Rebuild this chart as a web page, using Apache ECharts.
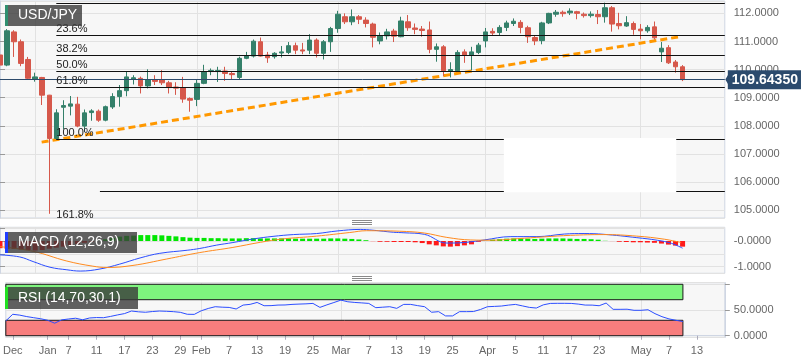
<!DOCTYPE html>
<html><head><meta charset="utf-8">
<script src="https://cdn.jsdelivr.net/npm/echarts@6/dist/echarts.min.js"></script>
<style>html,body{margin:0;padding:0;background:#fff}#c{width:808px;height:363px}</style>
</head><body><div id="c"></div>
<script>
// ---------- DATA ----------
const dates = [
'2018-12-25','2018-12-26','2018-12-27','2018-12-28','2018-12-31',
'2019-01-01','2019-01-02','2019-01-03','2019-01-04','2019-01-07','2019-01-08','2019-01-09','2019-01-10','2019-01-11',
'2019-01-14','2019-01-15','2019-01-16','2019-01-17','2019-01-18','2019-01-21','2019-01-22','2019-01-23','2019-01-24','2019-01-25',
'2019-01-28','2019-01-29','2019-01-30','2019-01-31',
'2019-02-01','2019-02-04','2019-02-05','2019-02-06','2019-02-07','2019-02-08','2019-02-11','2019-02-12','2019-02-13','2019-02-14','2019-02-15',
'2019-02-18','2019-02-19','2019-02-20','2019-02-21','2019-02-22','2019-02-25','2019-02-26','2019-02-27','2019-02-28',
'2019-03-01','2019-03-04','2019-03-05','2019-03-06','2019-03-07','2019-03-08','2019-03-11','2019-03-12','2019-03-13','2019-03-14','2019-03-15',
'2019-03-18','2019-03-19','2019-03-20','2019-03-21','2019-03-22','2019-03-25','2019-03-26','2019-03-27','2019-03-28','2019-03-29',
'2019-04-01','2019-04-02','2019-04-03','2019-04-04','2019-04-05','2019-04-08','2019-04-09','2019-04-10','2019-04-11','2019-04-12',
'2019-04-15','2019-04-16','2019-04-17','2019-04-18','2019-04-19','2019-04-22','2019-04-23','2019-04-24','2019-04-25','2019-04-26',
'2019-04-29','2019-04-30',
'2019-05-01','2019-05-02','2019-05-03','2019-05-06','2019-05-07','2019-05-08','2019-05-09','2019-05-10',
'2019-05-13','2019-05-14','2019-05-15','2019-05-16','2019-05-17'];

const opens  = [110.52,110.16,111.34,110.99,110.36,109.65,109.72,109.09,107.55,108.66,
108.70,108.77,107.99,108.47,108.52,108.20,108.67,109.04,109.25,109.65,
109.69,109.42,109.63,109.63,109.53,109.38,109.35,108.97,108.94,109.51,
109.93,109.93,109.95,109.86,109.72,110.40,110.48,110.99,110.52,110.46,
110.59,110.61,110.85,110.70,110.69,111.05,110.58,110.99,111.46,111.88,
111.70,111.88,111.76,111.62,111.02,111.20,111.37,111.17,111.70,111.48,
111.44,111.41,110.72,110.81,109.95,109.96,110.63,110.51,110.61,111.02,
111.36,111.32,111.50,111.64,111.68,111.49,111.14,111.03,111.66,111.97,
112.04,112.02,112.06,111.97,111.92,111.96,111.88,112.20,111.64,111.55,
111.64,111.44,111.38,111.52,110.63,110.78,110.27,110.10];
const closes = [110.16,111.38,110.99,110.22,109.69,109.74,109.09,107.55,108.46,108.72,
108.78,107.99,108.46,108.53,108.20,108.68,109.04,109.25,109.74,109.71,
109.42,109.63,109.58,109.53,109.36,109.34,108.95,108.91,109.51,109.92,
109.97,109.97,109.86,109.82,110.40,110.48,111.01,110.48,110.42,110.58,
110.63,110.85,110.69,110.66,111.05,110.58,110.99,111.46,111.97,111.70,
111.88,111.79,111.64,111.15,111.20,111.34,111.19,111.73,111.49,111.43,
111.39,110.72,110.81,109.96,110.00,110.61,110.51,110.63,110.87,111.34,
111.30,111.50,111.66,111.72,111.50,111.17,111.02,111.66,112.00,112.04,
111.99,112.08,112.00,111.92,111.97,111.88,112.20,111.62,111.56,111.67,
111.43,111.38,111.50,111.13,110.76,110.24,110.10,109.6435];
const lows   = [110.10,110.12,110.45,110.12,109.63,109.57,108.74,104.87,107.50,107.88,
108.37,107.95,107.79,108.18,108.14,108.16,108.60,108.68,109.05,109.47,
109.15,109.33,109.45,109.45,109.15,109.10,108.82,108.50,108.70,109.48,
109.80,109.56,109.60,109.65,109.66,110.37,110.43,110.46,110.24,110.39,
110.43,110.55,110.55,110.55,110.55,110.43,110.36,110.63,111.31,111.62,
111.58,111.62,111.50,110.79,110.90,111.07,110.98,111.15,111.38,111.26,
111.17,110.58,110.28,109.77,109.72,109.92,110.24,109.98,110.55,110.79,
111.23,111.23,111.37,111.55,111.29,110.95,110.87,110.90,111.62,111.88,
111.88,111.94,111.79,111.85,111.85,111.62,111.67,111.35,111.43,111.52,
111.24,111.08,111.31,111.07,110.27,110.20,109.89,109.59];
const highs  = [110.55,111.44,111.40,111.07,110.45,109.89,109.74,109.10,108.59,108.91,
109.06,109.03,108.58,108.59,108.58,108.72,109.16,109.45,109.92,109.80,
109.75,110.01,109.80,109.98,109.60,109.55,109.74,109.01,109.65,110.17,
110.04,110.10,110.10,109.95,110.46,110.63,111.07,111.14,110.63,110.62,
110.84,110.98,110.96,110.95,111.26,111.11,111.05,111.52,112.09,112.00,
112.14,111.94,111.86,111.67,111.32,111.45,111.45,111.88,111.94,111.64,
111.55,111.71,110.93,110.87,110.26,110.69,110.72,110.81,110.95,111.48,
111.47,111.58,111.74,111.82,111.76,111.56,111.23,111.70,112.02,112.12,
112.10,112.18,112.09,112.03,112.07,112.12,112.38,112.26,112.02,111.90,
111.71,111.62,111.58,111.71,110.98,110.87,110.34,110.16];

const lastPrice = 109.6435;

// trend line (x as trading-day index, y as price)
const trendPts = [[5.92, 107.42], [96.35, 111.16]];

// Fibonacci retracement
const fibNames  = ['0.0%','23.6%','38.2%','50.0%','61.8%','100.0%','161.8%'];
const fibPrices = [112.36, 111.23, 110.51, 109.95, 109.38, 107.52, 104.55];
const fibStart = 8;
const extraLevel = 105.66;     // extra horizontal drawing
const extraStart = 14.2;
const whiteBox = {x0: 71.6, x1: 96.1, yTop: 107.57, yBot: 105.64};

// MACD (12,26,9)
const macdPts = [[0,-0.54],[2.8,-0.62],[4.7,-0.80],[7.1,-1.02],[9.5,-1.12],[11.4,-1.17],[14.2,-1.09],[17,-0.90],
[19.9,-0.66],[22.7,-0.48],[26.6,-0.36],[28.4,-0.29],[30.8,-0.16],[33.1,-0.06],[36,0.08],[38.8,0.18],[41.7,0.25],
[45,0.29],[47.9,0.39],[51.2,0.45],[53,0.42],[55.9,0.34],[57.4,0.32],[60.3,0.26],[63.5,-0.08],[65.9,-0.06],
[68.8,0.04],[72.6,0.17],[76.3,0.17],[80.2,0.27],[83,0.29],[85.8,0.26],[90.5,0.13],[93.4,0.03],[95.4,-0.09],[97,-0.28]];
const signalPts = [[0,-0.22],[4.7,-0.40],[9.5,-0.78],[13.2,-0.98],[15.2,-1.03],[18.9,-0.95],[23.7,-0.70],[28.4,-0.45],
[33.1,-0.25],[37,-0.05],[40.2,0.08],[45,0.19],[49.7,0.33],[52.1,0.40],[56.8,0.38],[60.3,0.31],[63.5,0.14],
[66.9,0.04],[69.8,0.03],[73.5,0.09],[77.3,0.16],[81.1,0.22],[85.8,0.25],[90.5,0.19],[94.4,0.07],[96.8,-0.06]];
const histogram = [-0.28,-0.30,-0.31,-0.33,-0.35,-0.37,-0.35,-0.30,-0.26,-0.22,
-0.17,-0.12,-0.07,-0.03,0.02,0.07,0.12,0.17,0.20,0.21,
0.23,0.23,0.23,0.22,0.20,0.18,0.15,0.13,0.12,0.12,
0.11,0.11,0.10,0.10,0.10,0.11,0.11,0.10,0.10,0.10,
0.10,0.10,0.09,0.09,0.09,0.09,0.09,0.10,0.10,0.09,
0.08,0.06,0.03,-0.02,-0.03,-0.03,-0.04,-0.04,-0.04,-0.05,
-0.08,-0.13,-0.17,-0.21,-0.22,-0.20,-0.17,-0.13,-0.03,0.01,
0.05,0.07,0.09,0.10,0.10,0.09,0.08,0.09,0.10,0.10,
0.10,0.09,0.08,0.08,0.07,0.05,0.02,-0.01,-0.03,-0.04,
-0.05,-0.05,-0.06,-0.07,-0.10,-0.14,-0.18,-0.22];

// RSI (14)
const rsi = [28.8,41.7,40,37.2,35,33,30,24.4,30.8,32.5,
34,31,34.5,35.3,35,37.5,40.4,43,48,46.5,
45.6,47,48,47.5,46.8,45.5,41.7,41.5,48.5,53,
56.4,55.5,55,52,59.6,61,64.7,58.3,58.5,59.6,
59.8,60.9,61.5,62,62.8,55.1,60,64.5,69.2,66,
64.7,63.8,62.8,54.5,55.5,56.4,53.2,60.9,60.9,58.5,
56.4,45.6,46.8,38.5,38.5,46.8,46.8,47,51,56.4,
57,57.7,59.5,60.9,58,55.1,53.8,60,62.8,63,
63,62.8,61.5,59.6,59.5,58.3,63.5,51.3,51.3,51.5,
49.4,49.4,50.5,42.9,37,32.7,30,27.6];
const rsiBands = [[70, 100, '#7ef57e'], [0, 30, '#f77d7d']];

// axis tick labels
const tickLabels = {
'2018-12-26':'Dec','2019-01-02':'Jan','2019-01-07':'7','2019-01-11':'11','2019-01-17':'17','2019-01-23':'23','2019-01-29':'29',
'2019-02-01':'Feb','2019-02-07':'7','2019-02-13':'13','2019-02-19':'19','2019-02-25':'25',
'2019-03-01':'Mar','2019-03-07':'7','2019-03-13':'13','2019-03-19':'19','2019-03-25':'25',
'2019-04-01':'Apr','2019-04-05':'5','2019-04-11':'11','2019-04-17':'17','2019-04-23':'23',
'2019-05-01':'May','2019-05-07':'7','2019-05-13':'13'};
const monthStarts = ['2019-01-01','2019-02-01','2019-03-01','2019-04-01','2019-05-01'];

// ---------- CHART ----------
const FONT = 'Liberation Sans, Arial, sans-serif';
const chart = echarts.init(document.getElementById('c'), null, {renderer:'canvas'});
const candleData = opens.map((o,i)=>[o, closes[i], lows[i], highs[i]]);
const lastIdx = opens.length - 1;
const W = 724.8;
const gridStyle = {show:true, backgroundColor:'#f7f7f7', borderColor:'#cfd6e3', borderWidth:1};
const vSplit = {show:true, interval:(i,v)=>monthStarts.indexOf(v)>=0, lineStyle:{color:'#e2e2e2', width:1}};
const catAxis = (g, showLabels) => ({
  type:'category', gridIndex:g, data:dates, boundaryGap:false,
  axisLine:{show:showLabels, lineStyle:{color:'#cfd6e3'}},
  axisTick:{show:showLabels, interval:(i,v)=>!!tickLabels[v], length:4, lineStyle:{color:'#aab'}},
  axisLabel:{show:showLabels, interval:0, formatter:v=>tickLabels[v]||'', color:'#666', fontSize:11, fontFamily:FONT, margin:8},
  splitLine:vSplit
});
const yBase = (g) => ({
  type:'value', gridIndex:g, position:'right', scale:true,
  axisLine:{show:true, lineStyle:{color:'#cfd6e3'}},
  axisTick:{show:true, length:5, lineStyle:{color:'#999'}},
  splitLine:{show:true, lineStyle:{color:'#e2e2e2', width:1}},
});

// fib mark lines (split around the white box); the last level lies outside the pane
const solid = {color:'#111', width:1.2, type:'solid'};
const fibLines = [];
fibPrices.slice(0, -1).forEach((p, k) => {
  if (p < whiteBox.yTop && p > whiteBox.yBot) {
    fibLines.push([{coord:[fibStart,p], lineStyle:solid, label:{formatter:fibNames[k]}}, {coord:[whiteBox.x0,p]}]);
    fibLines.push([{coord:[whiteBox.x1,p], lineStyle:solid, label:{show:false}}, {coord:[103,p]}]);
  } else {
    fibLines.push([{coord:[fibStart,p], lineStyle:solid, label:{formatter:fibNames[k]}}, {coord:[103,p]}]);
  }
});
fibLines.push([{coord:[extraStart, extraLevel], lineStyle:solid, label:{show:false}}, {coord:[whiteBox.x0, extraLevel]}]);
fibLines.push([{coord:[whiteBox.x1, extraLevel], lineStyle:solid, label:{show:false}}, {coord:[103, extraLevel]}]);

const histColor = v => {
  if (Math.abs(v) <= 0.02) return v >= 0 ? '#9bee9b' : '#ffa3a3';
  return v >= 0 ? '#00e600' : '#ff1a1a';
};

chart.setOption({
  animation:false,
  backgroundColor:'#ffffff',
  textStyle:{fontFamily:FONT},
  grid:[
    Object.assign({left:0, top:1, width:W, height:217}, gridStyle),
    Object.assign({left:0, top:227.3, width:W, height:46}, gridStyle),
    Object.assign({left:0, top:282.7, width:W, height:54.6}, gridStyle)
  ],
  xAxis:[
    catAxis(0,false), catAxis(1,false), catAxis(2,true),
    {type:'value', gridIndex:0, min:0, max:103, show:false},
    {type:'value', gridIndex:1, min:0, max:103, show:false}
  ],
  yAxis:[
    Object.assign(yBase(0), {min:104.72, max:112.44, minInterval:1, maxInterval:1,
      axisLabel:{formatter:v=>v.toFixed(4), color:'#666', fontSize:11, fontFamily:FONT, margin:9, showMinLabel:false, showMaxLabel:false}}),
    Object.assign(yBase(1), {min:-1.257, max:0.533, minInterval:0.5, maxInterval:0.5,
      axisLabel:{formatter:v=>{ if (Math.abs(v-Math.round(v))>1e-6) return ''; return (v<=0?'-':'')+Math.abs(v).toFixed(4);},
        color:'#666', fontSize:11, fontFamily:FONT, margin:9, showMinLabel:false, showMaxLabel:false}}),
    Object.assign(yBase(2), {min:-3.1, max:103.1, minInterval:50, maxInterval:50,
      axisLabel:{formatter:v=>(Math.abs(v)<1e-6||Math.abs(v-50)<1e-6)?v.toFixed(4):'', color:'#666', fontSize:11, fontFamily:FONT, margin:9,
        showMinLabel:false, showMaxLabel:false}})
  ],
  series:[
    { name:'guides', type:'line', xAxisIndex:3, yAxisIndex:0, data:trendPts, symbol:'none', z:2,
      lineStyle:{color:'#ff9800', width:3, type:[7,4]},
      markLine:{ silent:true, symbol:['none','none'], animation:false,
        label:{show:true, position:'insideStartTop', distance:[0,1], color:'#222', fontSize:11, fontFamily:FONT},
        data:fibLines },
      markArea:{ silent:true, itemStyle:{color:'#ffffff'},
        data:[[{coord:[whiteBox.x0, whiteBox.yTop]}, {coord:[whiteBox.x1, whiteBox.yBot]}]] }
    },
    { name:'USD/JPY', type:'candlestick', xAxisIndex:0, yAxisIndex:0, data:candleData, barWidth:5, clip:true, z:3,
      itemStyle:{color:'#34806a', color0:'#d6584b', borderColor:'#34806a', borderColor0:'#d6584b', borderWidth:1},
      markLine:{ silent:true, symbol:['none','none'], animation:false,
        lineStyle:{color:'#2c4a6b', width:1, type:'solid'},
        label:{show:true, position:'end', distance:3, formatter:()=>lastPrice.toFixed(5),
          backgroundColor:'#2b4a6d', color:'#fff', fontWeight:'bold', fontSize:14, fontFamily:FONT, padding:[3,3,2,4]},
        data:[{yAxis:lastPrice}] }
    },
    { name:'hist', type:'bar', xAxisIndex:1, yAxisIndex:1, barWidth:5,
      data:histogram.map(v=>({value:v, itemStyle:{color:histColor(v)}})) },
    { name:'MACD', type:'line', xAxisIndex:4, yAxisIndex:1, data:macdPts, symbol:'none', smooth:0.4,
      lineStyle:{color:'#2b4dff', width:1}, z:4 },
    { name:'Signal', type:'line', xAxisIndex:4, yAxisIndex:1, data:signalPts, symbol:'none', smooth:0.4,
      lineStyle:{color:'#ff8a1e', width:1}, z:4 },
    { name:'RSI', type:'line', xAxisIndex:2, yAxisIndex:2, data:rsi, symbol:'none',
      lineStyle:{color:'#2b4dff', width:1}, z:4,
      markArea:{ silent:true,
        data:rsiBands.map(b=>[{xAxis:dates[0], yAxis:b[0], itemStyle:{color:b[2], borderColor:'#1a1a1a', borderWidth:1}},
                              {xAxis:dates[lastIdx], yAxis:b[1]}]) } }
  ]
});

// decorations: panel title boxes, resize handles, price tag arrow, out-of-pane fib label
const yLast = chart.convertToPixel({yAxisIndex:0}, lastPrice);
const xEdge = chart.convertToPixel({xAxisIndex:3}, 103);
const fibOutX = chart.convertToPixel({xAxisIndex:3}, fibStart);
const fibOutY = chart.convertToPixel({yAxisIndex:0}, fibPrices[fibPrices.length-1]);
const box = (x,y,w,h,bar,text) => ([
  {type:'rect', shape:{x:x,y:y,width:w,height:h}, style:{fill:'rgba(58,58,58,0.8)'}, z:100},
  {type:'rect', shape:{x:x,y:y,width:3,height:h}, style:{fill:bar}, z:101},
  {type:'text', x:x+13, y:y+h/2, style:{text:text, fill:'#fff', font:'14px '+FONT, verticalAlign:'middle'}, z:101}
]);
const handle = (y) => [0,2,4].map(d=>({type:'line', shape:{x1:352,y1:y+d,x2:372,y2:y+d}, style:{stroke:'#8a8a8a', lineWidth:1}, z:100}));
chart.setOption({graphic:[].concat(
  box(5,5,77,21,'#2f8f6f','USD/JPY'),
  box(5,232,132,21,'#1e3cff','MACD (12,26,9)'),
  box(5,287,133,22,'#22e022','RSI (14,70,30,1)'),
  handle(220.5), handle(276.5),
  [{type:'polygon', shape:{points:[[xEdge+0.5,yLast],[xEdge+3.5,yLast-5],[xEdge+3.5,yLast+5]]}, style:{fill:'#2b4a6d'}, z:100},
   {type:'text', x:fibOutX, y:fibOutY-13, style:{text:fibNames[fibNames.length-1], fill:'#222', font:'11px '+FONT, verticalAlign:'top'}, z:50}]
)});
</script>
</body></html>
